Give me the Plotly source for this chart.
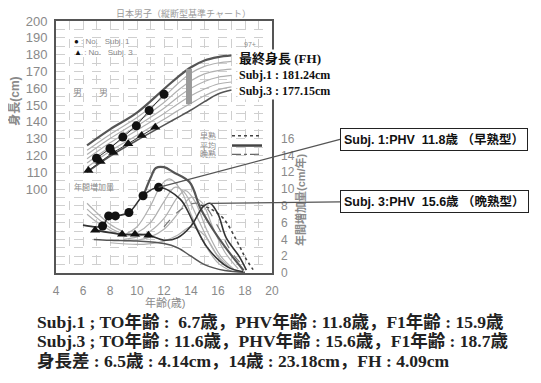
import plotly.graph_objects as go

# ---------------- data ----------------
# reference height curves (cm) read at these ages
ref_h_ages = [6.3, 8, 10, 12, 13, 14, 15, 16, 17.0]
ref_h_upper = [126, 135.5, 145.5, 159.5, 166.5, 172.5, 176.5, 178.5, 179.5]
ref_h_g1 = [123, 132.5, 142.5, 155, 162.5, 169, 173, 175, 176]
ref_h_g2 = [120.5, 130, 140, 151.5, 158.5, 164.5, 168.5, 170.5, 171.4]
ref_h_g3 = [118, 127.5, 137.5, 148, 154.5, 160, 164, 166.5, 167.6]
ref_h_g4 = [115.5, 125, 135, 145, 150.5, 155.5, 159.5, 162.5, 163.7]
ref_h_g5 = [113, 122.5, 132, 141.5, 146.5, 151, 155.5, 159, 160.8]
ref_h_lower = [110, 119.5, 129, 138, 142.5, 147, 152, 156.5, 158.9]

# subject heights
subj1_h_ages = [7.0, 8.0, 8.95, 9.95, 10.9, 12.0]
subj1_h = [118.3, 124.1, 130.9, 137.6, 146.7, 156.4]
subj3_h_ages = [6.4, 7.3, 8.25, 9.35, 10.35, 11.35]
subj3_h = [111.0, 116.4, 121.8, 127.0, 131.8, 136.7]

# height difference at age 14 (gray bar)
diff_age = [13.85, 13.85]
diff_h = [150.5, 171.5]

# reference velocity curves (cm/year)
early_ages = [6.3, 7, 8, 9]
early_v1 = [8.3, 7.2, 5.8, 4.9]
early_v2 = [7.6, 6.6, 5.4, 4.6]
early_v3 = [7.0, 6.1, 5.1, 4.4]

g1_ages = [9, 10, 11, 11.8, 12.4, 13.2, 14, 15, 16, 17]
g1_v = [4.5, 5.5, 8.0, 10.5, 11.2, 10.0, 7.0, 3.5, 1.2, 0.2]
g2_ages = [9, 10, 11, 12, 12.8, 13.5, 14.5, 15.5, 16.5, 17.5]
g2_v = [4.3, 4.8, 6.0, 8.5, 10.2, 9.6, 6.5, 3.2, 1.0, 0.2]
g3_ages = [9, 10, 11, 12, 13, 13.6, 14.3, 15.2, 16.2, 17.2]
g3_v = [4.0, 4.3, 5.0, 6.5, 9.0, 9.8, 8.5, 5.0, 2.0, 0.4]
g4_ages = [9, 10, 11, 12, 13, 14, 14.8, 15.6, 16.5, 17.5]
g4_v = [3.8, 3.9, 4.3, 5.2, 7.0, 9.0, 8.4, 5.5, 2.5, 0.5]
g5_ages = [8, 10, 11, 12, 13, 14, 15, 16, 17]
g5_v = [3.6, 3.4, 3.5, 3.8, 4.5, 5.5, 4.5, 2.0, 0.5]
bottom_ages = [6.8, 8, 10, 12, 13, 14, 15, 16.5, 18]
bottom_v = [4.0, 3.9, 3.8, 3.5, 3.0, 2.0, 1.0, 0.3, 0.1]

peak_ages = [10.5, 11.0, 11.4, 12.0, 12.7, 13.9, 14.7, 15.7, 16.9, 17.9]
peak_v = [9.3, 11.3, 12.5, 12.6, 12.0, 10.8, 7.7, 5.0, 2.3, 0.3]
dotted_ages = [14.7, 15.5, 16.4, 17.4, 18.0, 18.6]
dotted_v = [8.1, 7.6, 6.5, 3.8, 1.9, 0.4]
dashed_ages = [12.0, 13.2, 14.2, 15.0, 16.0, 17.0, 18.0]
dashed_v = [5.5, 7.5, 8.3, 8.0, 5.5, 2.5, 0.6]

# subject velocities
subj1_v_ages = [7.45, 7.9, 8.4, 9.4, 10.45, 11.6]
subj1_v = [5.6, 6.8, 6.8, 7.2, 9.2, 10.2]
subj1_lead_ages = [6.0]
subj1_lead_v = [5.7]
subj1_tail_ages = [13.2, 14.15, 15.2, 16.7, 17.85]
subj1_tail_v = [8.8, 6.1, 3.05, 0.73, 0.15]

subj3_v_ages = [6.9, 8.9, 9.85, 10.85]
subj3_v = [5.1, 4.6, 4.6, 4.5]
subj3_tail_ages = [12.0, 13.0, 14.0, 14.9, 15.4, 16.0, 16.6, 17.6, 18.1]
subj3_tail_v = [3.9, 4.2, 5.6, 7.9, 8.3, 7.0, 4.2, 1.9, 0.35]
subj3_phv = (15.4, 8.3)

x_ticks = list(range(4, 21))
y_ticks = list(range(50, 201, 5))
v_ticks = list(range(0, 17, 2))

# ---------------- layout helpers ----------------
OFF = 8                      # page body margin of the browser
W, H = 541 - OFF, 383 - OFF
L, R, T, B = 56, 272, 14, 273   # plot box in target-picture pixels


def px(x):
    return (x - L) / (R - L)


def py(y):
    return (B - y) / (B - T)


GRAY = "#8a8a8a"
LIGHT = "#b0b0b0"
DARK = "#555555"

fig = go.Figure()


def hline(xs, ys, color, width, dash="solid", axis="y"):
    fig.add_trace(go.Scatter(x=xs, y=ys, mode="lines", yaxis=axis,
                             line=dict(color=color, width=width, dash=dash, shape="spline"),
                             hoverinfo="skip", showlegend=False))


# height reference band
for ys in [ref_h_g1, ref_h_g2, ref_h_g3, ref_h_g4, ref_h_g5]:
    hline(ref_h_ages, ys, LIGHT, 1.2)
hline(ref_h_ages, ref_h_upper, DARK, 2.2)
hline(ref_h_ages, ref_h_lower, DARK, 1.6)

fig.add_trace(go.Scatter(x=diff_age, y=diff_h, mode="lines", line=dict(color="#9a9a9a", width=6),
                         hoverinfo="skip", showlegend=False))

# subject heights
fig.add_trace(go.Scatter(x=subj1_h_ages, y=subj1_h, mode="lines+markers",
                         line=dict(color="#333", width=1),
                         marker=dict(symbol="circle", size=9, color="#111"),
                         hoverinfo="skip", showlegend=False))
fig.add_trace(go.Scatter(x=subj3_h_ages, y=subj3_h, mode="lines+markers",
                         line=dict(color="#333", width=1),
                         marker=dict(symbol="triangle-up", size=9, color="#111"),
                         hoverinfo="skip", showlegend=False))

# velocity reference curves
for ys in [early_v1, early_v2, early_v3]:
    hline(early_ages, ys, LIGHT, 1.2, axis="y2")
for xs, ys in [(g1_ages, g1_v), (g2_ages, g2_v), (g3_ages, g3_v), (g4_ages, g4_v), (g5_ages, g5_v)]:
    hline(xs, ys, LIGHT, 1.2, axis="y2")
hline(bottom_ages, bottom_v, DARK, 1.5, axis="y2")
hline(peak_ages, peak_v, DARK, 2.2, axis="y2")
hline(dotted_ages, dotted_v, "#444", 1.6, dash="dot", axis="y2")
hline(dashed_ages, dashed_v, "#777", 1.2, dash="dash", axis="y2")

# subject velocities
hline(subj1_lead_ages + subj1_v_ages + subj1_tail_ages,
      subj1_lead_v + subj1_v + subj1_tail_v, "#333", 1.6, axis="y2")
fig.add_trace(go.Scatter(x=subj1_v_ages, y=subj1_v, mode="markers", yaxis="y2",
                         marker=dict(symbol="circle", size=9, color="#111"),
                         hoverinfo="skip", showlegend=False))
hline(subj3_v_ages + subj3_tail_ages, subj3_v + subj3_tail_v, "#333", 1.6, axis="y2")
fig.add_trace(go.Scatter(x=subj3_v_ages, y=subj3_v, mode="markers", yaxis="y2",
                         marker=dict(symbol="triangle-up", size=9, color="#111"),
                         hoverinfo="skip", showlegend=False))

# ---------------- axes ----------------
fig.update_layout(
    width=W, height=H,
    margin=dict(l=L - OFF, r=541 - R, t=T - OFF, b=383 - B, pad=0),
    paper_bgcolor="white", plot_bgcolor="white",
    font=dict(family="Liberation Sans, Noto Sans CJK JP", color=GRAY),
    xaxis=dict(range=[4, 20], tickmode="array", tickvals=x_ticks,
               ticktext=[str(v) if v % 2 == 0 else "" for v in x_ticks],
               showgrid=True, gridcolor="#cfcfcf", griddash="dash", gridwidth=1,
               showline=True, mirror=True, linecolor="#555", linewidth=2,
               ticks="", tickfont=dict(size=12, color=GRAY), ticklabelstandoff=6,
               zeroline=False),
    yaxis=dict(range=[50, 200], tickmode="array", tickvals=y_ticks,
               ticktext=[str(v) if (v >= 100 and v % 10 == 0) else "" for v in y_ticks],
               showgrid=True, gridcolor="#cfcfcf", griddash="dash", gridwidth=1,
               showline=True, mirror=True, linecolor="#555", linewidth=2,
               ticks="", tickfont=dict(size=13, color=GRAY), ticklabelstandoff=4,
               zeroline=False),
    yaxis2=dict(range=[0, 30], overlaying="y", side="right", anchor="x",
                tickmode="array", tickvals=v_ticks, showgrid=False, showline=False,
                ticks="", tickfont=dict(size=12, color=GRAY), ticklabelstandoff=8,
                zeroline=False),
)

ann = []


def text(x, y, t, size=9, color=GRAY, xanchor="center", bold=False, family=None, angle=0, bg=None):
    d = dict(xref="paper", yref="paper", x=px(x), y=py(y), text=("<b>%s</b>" % t) if bold else t,
             showarrow=False, xanchor=xanchor, yanchor="middle", textangle=angle,
             font=dict(size=size, color=color))
    if family:
        d["font"]["family"] = family
    if bg:
        d["bgcolor"] = bg
    ann.append(d)


text(183, 6, "日本男子（縦断型基準チャート）", size=9, color="#9a9a9a")
text(72, 35, "<span style='color:#111'>●</span> : No.   Subj. 1", size=8, xanchor="left")
text(72, 46, "<span style='color:#111'>▲</span> : No.   Subj. 3", size=8, xanchor="left")
text(250, 38, "97+", size=7)
text(77, 88, "男", size=9)
text(103, 88, "男", size=9)
text(94, 185, "年間増加量", size=8)
text(15, 97, "身長(cm)", size=12, bold=True, angle=-90)
text(300, 198, "年間増加量(cm/年)", size=11, bold=True, angle=-90)
text(165, 303, "年齢(歳)", size=11)

# legend of line styles
text(208, 132, "早熟", size=8)
text(208, 142, "平均", size=8)
text(208, 151, "晩熟", size=8)

SERIF = "Liberation Serif, Noto Sans CJK JP"
text(237, 53, "最終身長 (FH)", size=13, color="#111", xanchor="left", bold=True, family=SERIF, bg="white")
text(237, 70, "Subj.1 : 181.24cm", size=12, color="#111", xanchor="left", bold=True, family=SERIF, bg="white")
text(237, 86, "Subj.3 : 177.15cm", size=12, color="#111", xanchor="left", bold=True, family=SERIF, bg="white")

text(35, 323, "Subj.1 ; TO年齢 :  6.7歳，PHV年齢 : 11.8歳，F1年齢 : 15.9歳", size=17.5, color="#222",
     xanchor="left", bold=True, family=SERIF)
text(35, 343, "Subj.3 ; TO年齢 : 11.6歳，PHV年齢 : 15.6歳，F1年齢 : 18.7歳", size=17.5, color="#222",
     xanchor="left", bold=True, family=SERIF)
text(35, 363, "身長差 : 6.5歳 : 4.14cm，14歳 : 23.18cm，FH : 4.09cm", size=17.5, color="#222",
     xanchor="left", bold=True, family=SERIF)


# callout boxes with leader lines to PHV points
def phv_px(age, v):
    return L + (age - 4) / 16 * (R - L), B - v / 30 * (B - T)


p1x, p1y = phv_px(subj1_v_ages[-1], subj1_v[-1])
p3x, p3y = phv_px(*subj3_phv)
for (ax_, ay_, label, pxx, pyy, vx, vy) in [
    (340, 137, "Subj. 1:PHV  11.8歳 （早熟型）", p1x, p1y, subj1_v_ages[-1], subj1_v[-1]),
    (340, 200, "Subj. 3:PHV  15.6歳 （晩熟型）", p3x, p3y, subj3_phv[0], subj3_phv[1]),
]:
    ann.append(dict(xref="x", yref="y2", x=vx, y=vy, ax=ax_ - pxx, ay=ay_ - pyy,
                    axref="pixel", ayref="pixel",
                    text="<b>%s</b>" % label, showarrow=True, arrowhead=0, arrowwidth=1.2,
                    arrowcolor="#555", xanchor="left", yanchor="middle",
                    bordercolor="#222", borderwidth=1, borderpad=3, bgcolor="white",
                    font=dict(size=12.5, color="#111", family="Liberation Sans, Noto Sans CJK JP")))

fig.update_layout(annotations=ann)

shapes = []
for yy, dash, col, w in [(132, "dot", "#444", 1.5), (142, "solid", "#444", 2.5), (151, "dashdot", "#666", 1.2)]:
    shapes.append(dict(type="line", xref="paper", yref="paper", x0=px(232), x1=px(262),
                       y0=py(yy), y1=py(yy), line=dict(color=col, width=w, dash=dash)))
fig.update_layout(shapes=shapes)

fig.write_html("out.html")
